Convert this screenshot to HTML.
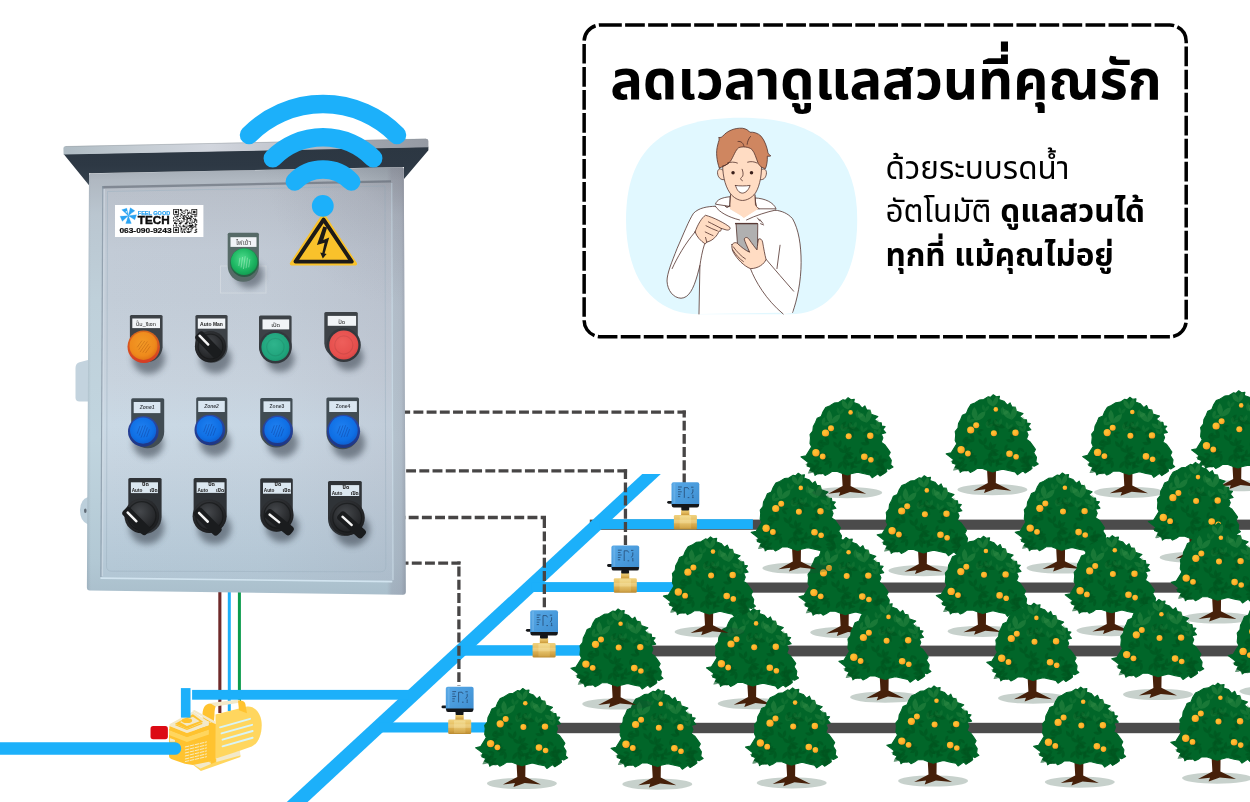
<!DOCTYPE html>
<html lang="th">
<head>
<meta charset="utf-8">
<title>ระบบรดน้ำอัตโนมัติ</title>
<style>
html,body{margin:0;padding:0;background:#fff;}
body{width:1250px;height:802px;overflow:hidden;position:relative;font-family:"Liberation Sans","Noto Sans Thai","Noto Sans Thai UI","Loma",sans-serif;}
svg{display:block;position:absolute;left:0;top:0;}
text{font-family:"Liberation Sans","Noto Sans Thai","Noto Sans Thai UI","Loma",sans-serif;}
</style>
</head>
<body>
<svg width="1250" height="802" viewBox="0 0 1250 802" role="img" aria-label="ระบบรดน้ำอัตโนมัติ">
<defs>
<radialGradient id="og" cx=".38" cy=".38" r=".72"><stop offset="0" stop-color="#ffc535"/><stop offset=".55" stop-color="#ffb42b"/><stop offset="1" stop-color="#fb8d1e"/></radialGradient>
<linearGradient id="brass" x1="0" y1="0" x2="0" y2="1"><stop offset="0" stop-color="#f0d27e"/><stop offset=".35" stop-color="#e6c064"/><stop offset=".75" stop-color="#d3a445"/><stop offset="1" stop-color="#b98a30"/></linearGradient>
<linearGradient id="brassM" x1="0" y1="0" x2="0" y2="1"><stop offset="0" stop-color="#f3dc92"/><stop offset=".5" stop-color="#e8c670"/><stop offset="1" stop-color="#cfa348"/></linearGradient>
<linearGradient id="act" x1="0" y1="0" x2="1" y2="1"><stop offset="0" stop-color="#58a8e6"/><stop offset=".5" stop-color="#4a9cdd"/><stop offset="1" stop-color="#3f8dcf"/></linearGradient>


<linearGradient id="doorV" gradientUnits="userSpaceOnUse" x1="0" y1="180" x2="0" y2="581"><stop offset="0.000" stop-color="#b1b7bf"/><stop offset="0.030" stop-color="#bac1cb"/><stop offset="0.175" stop-color="#c2cbd6"/><stop offset="0.299" stop-color="#c3cdd8"/><stop offset="0.499" stop-color="#c8d3de"/><stop offset="0.611" stop-color="#cad9e5"/><stop offset="0.711" stop-color="#c6d4e0"/><stop offset="0.923" stop-color="#b7cad8"/><stop offset="1.000" stop-color="#b2c6d4"/></linearGradient>
<radialGradient id="roofSh" gradientUnits="userSpaceOnUse" cx="412" cy="158" r="150"><stop offset="0" stop-color="#59616b" stop-opacity=".3"/><stop offset=".4" stop-color="#59616b" stop-opacity=".1"/><stop offset="1" stop-color="#59616b" stop-opacity="0"/></radialGradient>
<filter id="blur3" x="-50%" y="-50%" width="200%" height="200%"><feGaussianBlur stdDeviation="3"/></filter>
<linearGradient id="bodyH" gradientUnits="userSpaceOnUse" x1="87" y1="0" x2="406" y2="0"><stop offset="0" stop-color="#7f8e9b" stop-opacity=".3"/><stop offset=".012" stop-color="#7f8e9b" stop-opacity="0"/><stop offset=".94" stop-color="#82788a" stop-opacity="0"/><stop offset=".955" stop-color="#82788a" stop-opacity=".2"/><stop offset=".985" stop-color="#82788a" stop-opacity=".26"/><stop offset="1" stop-color="#6f6c7a" stop-opacity=".45"/></linearGradient>
<linearGradient id="doorH" gradientUnits="userSpaceOnUse" x1="100" y1="0" x2="393" y2="0"><stop offset="0" stop-color="#8f8a9a" stop-opacity="0"/><stop offset=".55" stop-color="#8f8a9a" stop-opacity=".03"/><stop offset="1" stop-color="#8f8a9a" stop-opacity=".16"/></linearGradient>
<linearGradient id="bodyV" gradientUnits="userSpaceOnUse" x1="0" y1="167" x2="0" y2="594"><stop offset="0.000" stop-color="#a3abb4"/><stop offset="0.030" stop-color="#b0b8c1"/><stop offset="0.112" stop-color="#bac6d0"/><stop offset="0.311" stop-color="#bfd0da"/><stop offset="0.639" stop-color="#c1d5df"/><stop offset="0.925" stop-color="#b2c8d4"/><stop offset="1.000" stop-color="#aabfcc"/></linearGradient>
<linearGradient id="roofD" x1="0" y1="0" x2="0" y2="1"><stop offset="0" stop-color="#2c3742"/><stop offset=".5" stop-color="#2d3844"/><stop offset=".85" stop-color="#333f4b"/><stop offset="1" stop-color="#4a5663"/></linearGradient>
<linearGradient id="roofL" x1="0" y1="0" x2="1" y2="0"><stop offset="0" stop-color="#aebbc3"/><stop offset=".2" stop-color="#c4ccd3"/><stop offset=".4" stop-color="#d2d6de"/><stop offset=".6" stop-color="#c2c6ce"/><stop offset=".85" stop-color="#9ea3ac"/><stop offset="1" stop-color="#959aa3"/></linearGradient>
<radialGradient id="knob" cx=".45" cy=".38" r=".62"><stop offset="0" stop-color="#45484c"/><stop offset=".6" stop-color="#2b2d30"/><stop offset="1" stop-color="#1c1d1f"/></radialGradient>
<radialGradient id="oL" cx=".45" cy=".4" r=".65"><stop offset="0" stop-color="#f29a26"/><stop offset=".7" stop-color="#ee8a1c"/><stop offset="1" stop-color="#dd6e14"/></radialGradient>
<linearGradient id="oLR" x1="0" y1="0" x2="0" y2="1"><stop offset="0" stop-color="#d86a1c"/><stop offset="1" stop-color="#d63c24"/></linearGradient>
<radialGradient id="gL" cx=".45" cy=".4" r=".65"><stop offset="0" stop-color="#4edc8c"/><stop offset=".6" stop-color="#1fb864"/><stop offset="1" stop-color="#109a4f"/></radialGradient>
<linearGradient id="gLR" x1="0" y1="0" x2="0" y2="1"><stop offset="0" stop-color="#1a8f4d"/><stop offset="1" stop-color="#2b5a45"/></linearGradient>
<radialGradient id="bL" cx=".45" cy=".4" r=".65"><stop offset="0" stop-color="#1f80f0"/><stop offset=".7" stop-color="#0f6fe4"/><stop offset="1" stop-color="#0e5ccb"/></radialGradient>
<linearGradient id="bLR" x1="0" y1="0" x2="0" y2="1"><stop offset="0" stop-color="#2b4aa8"/><stop offset="1" stop-color="#1e3684"/></linearGradient>
<radialGradient id="gB" cx=".45" cy=".4" r=".7"><stop offset="0" stop-color="#2fb48c"/><stop offset=".7" stop-color="#1fa37b"/><stop offset="1" stop-color="#17906c"/></radialGradient>
<radialGradient id="rB" cx=".45" cy=".4" r=".7"><stop offset="0" stop-color="#ee5f5b"/><stop offset=".7" stop-color="#e64f4d"/><stop offset="1" stop-color="#cf4040"/></radialGradient>

<symbol id="tree" viewBox="0 0 92 102" width="92" height="102" overflow="visible">
<ellipse cx="46" cy="95" rx="35" ry="5.600" fill="#1e4632" fill-opacity=".250"/>
<path d="M40.600 74 L49.600 74 L49.400 88.300 L65 96 L48.800 94.400 L37.600 98.400 L39 94.600 L27 96 L41.400 88.400Z" fill="#46200a"/>
<path d="M46.9 0.0 L49.7 2.0 L53.1 1.5 L52.5 4.8 L57.5 6.5 L60.9 10.4 L63.7 8.2 L65.4 12.1 L68.8 12.7 L69.9 16.6 L76.6 18.8 L73.3 21.7 L77.2 25.0 L80.0 25.0 L80.5 28.4 L83.9 28.9 L81.7 31.7 L84.5 35.1 L80.0 36.2 L81.7 40.2 L80.0 44.6 L83.4 46.9 L86.7 51.4 L89.0 54.7 L87.3 58.1 L90.1 62.6 L89.5 67.1 L91.8 69.3 L87.8 71.6 L85.0 70.5 L85.6 73.8 L82.2 76.1 L78.9 78.3 L76.6 76.1 L71.0 80.0 L68.8 77.2 L63.2 76.1 L56.4 74.4 L49.7 76.1 L46.3 77.2 L40.7 75.5 L36.2 73.8 L30.6 73.8 L27.3 76.1 L23.9 77.7 L21.7 75.5 L16.0 76.1 L13.8 77.7 L13.2 74.4 L8.8 72.7 L9.9 69.9 L5.9 68.2 L7.1 64.8 L4.3 62.6 L-0.2 59.2 L4.8 58.1 L7.6 53.6 L10.4 49.1 L8.8 45.8 L9.3 40.2 L8.8 36.8 L11.6 33.4 L12.1 28.9 L14.4 24.5 L16.0 20.5 L20.0 18.8 L21.7 14.4 L24.5 9.9 L28.4 8.2 L32.9 5.4 L37.4 4.8 L41.8 2.0 L44.1 2.6Z" fill="#016629" stroke="#016629" stroke-width="1.1" stroke-linejoin="round"/>
<g transform="translate(42.6 52.9) rotate(332) scale(0.93)" fill="#00541f" opacity=".6"><path d="M0 3 Q-6 0 -3.600 -5.400 Q1.200 -2.500 0 3Z"/><path d="M0 3 Q6 .500 4.400 -5 Q-.800 -2.500 0 3Z"/></g>
<g transform="translate(46.6 54.2) rotate(66) scale(0.96)" fill="#00541f" opacity=".6"><path d="M0 3 Q-6 0 -3.600 -5.400 Q1.200 -2.500 0 3Z"/><path d="M0 3 Q6 .500 4.400 -5 Q-.800 -2.500 0 3Z"/></g>
<g transform="translate(55.4 64.1) rotate(33) scale(0.85)" fill="#00541f" opacity=".6"><path d="M0 3 Q-6 0 -3.600 -5.400 Q1.200 -2.500 0 3Z"/><path d="M0 3 Q6 .500 4.400 -5 Q-.800 -2.500 0 3Z"/></g>
<g transform="translate(16.5 64.9) rotate(249) scale(0.72)" fill="#00541f" opacity=".6"><path d="M0 3 Q-6 0 -3.600 -5.400 Q1.200 -2.500 0 3Z"/><path d="M0 3 Q6 .500 4.400 -5 Q-.800 -2.500 0 3Z"/></g>
<g transform="translate(80.7 72.3) rotate(235) scale(1.01)" fill="#00541f" opacity=".6"><path d="M0 3 Q-6 0 -3.600 -5.400 Q1.200 -2.500 0 3Z"/><path d="M0 3 Q6 .500 4.400 -5 Q-.800 -2.500 0 3Z"/></g>
<g transform="translate(48.0 28.9) rotate(68) scale(0.82)" fill="#00541f" opacity=".6"><path d="M0 3 Q-6 0 -3.600 -5.400 Q1.200 -2.500 0 3Z"/><path d="M0 3 Q6 .500 4.400 -5 Q-.800 -2.500 0 3Z"/></g>
<g transform="translate(41.7 66.4) rotate(186) scale(1.02)" fill="#00541f" opacity=".6"><path d="M0 3 Q-6 0 -3.600 -5.400 Q1.200 -2.500 0 3Z"/><path d="M0 3 Q6 .500 4.400 -5 Q-.800 -2.500 0 3Z"/></g>
<g transform="translate(46.0 57.8) rotate(164) scale(0.84)" fill="#00541f" opacity=".6"><path d="M0 3 Q-6 0 -3.600 -5.400 Q1.200 -2.500 0 3Z"/><path d="M0 3 Q6 .500 4.400 -5 Q-.800 -2.500 0 3Z"/></g>
<g transform="translate(81.8 73.8) rotate(302) scale(1.05)" fill="#00541f" opacity=".6"><path d="M0 3 Q-6 0 -3.600 -5.400 Q1.200 -2.500 0 3Z"/><path d="M0 3 Q6 .500 4.400 -5 Q-.800 -2.500 0 3Z"/></g>
<g transform="translate(32.7 37.0) rotate(104) scale(0.74)" fill="#00541f" opacity=".6"><path d="M0 3 Q-6 0 -3.600 -5.400 Q1.200 -2.500 0 3Z"/><path d="M0 3 Q6 .500 4.400 -5 Q-.800 -2.500 0 3Z"/></g>
<g transform="translate(65.2 45.2) rotate(304) scale(0.89)" fill="#00541f" opacity=".6"><path d="M0 3 Q-6 0 -3.600 -5.400 Q1.200 -2.500 0 3Z"/><path d="M0 3 Q6 .500 4.400 -5 Q-.800 -2.500 0 3Z"/></g>
<g transform="translate(79.0 66.7) rotate(0) scale(0.8)" fill="#00541f" opacity=".6"><path d="M0 3 Q-6 0 -3.600 -5.400 Q1.200 -2.500 0 3Z"/><path d="M0 3 Q6 .500 4.400 -5 Q-.800 -2.500 0 3Z"/></g>
<g transform="translate(15.3 56.2) rotate(280) scale(0.83)" fill="#00541f" opacity=".6"><path d="M0 3 Q-6 0 -3.600 -5.400 Q1.200 -2.500 0 3Z"/><path d="M0 3 Q6 .500 4.400 -5 Q-.800 -2.500 0 3Z"/></g>
<g transform="translate(79.4 62.4) rotate(42) scale(0.82)" fill="#00541f" opacity=".6"><path d="M0 3 Q-6 0 -3.600 -5.400 Q1.200 -2.500 0 3Z"/><path d="M0 3 Q6 .500 4.400 -5 Q-.800 -2.500 0 3Z"/></g>
<g transform="translate(67.4 34.5) rotate(201) scale(0.92)" fill="#00541f" opacity=".6"><path d="M0 3 Q-6 0 -3.600 -5.400 Q1.200 -2.500 0 3Z"/><path d="M0 3 Q6 .500 4.400 -5 Q-.800 -2.500 0 3Z"/></g>
<g transform="translate(23.7 61.1) rotate(47) scale(1.02)" fill="#00541f" opacity=".6"><path d="M0 3 Q-6 0 -3.600 -5.400 Q1.200 -2.500 0 3Z"/><path d="M0 3 Q6 .500 4.400 -5 Q-.800 -2.500 0 3Z"/></g>
<g transform="translate(18.4 46.2) rotate(76) scale(0.83)" fill="#00541f" opacity=".6"><path d="M0 3 Q-6 0 -3.600 -5.400 Q1.200 -2.500 0 3Z"/><path d="M0 3 Q6 .500 4.400 -5 Q-.800 -2.500 0 3Z"/></g>
<g transform="translate(79.9 64.6) rotate(109) scale(1.14)" fill="#00541f" opacity=".6"><path d="M0 3 Q-6 0 -3.600 -5.400 Q1.200 -2.500 0 3Z"/><path d="M0 3 Q6 .500 4.400 -5 Q-.800 -2.500 0 3Z"/></g>
<g transform="translate(25.2 44.9) rotate(307) scale(1.02)" fill="#00541f" opacity=".6"><path d="M0 3 Q-6 0 -3.600 -5.400 Q1.200 -2.500 0 3Z"/><path d="M0 3 Q6 .500 4.400 -5 Q-.800 -2.500 0 3Z"/></g>
<g transform="translate(17.2 73.5) rotate(76) scale(0.83)" fill="#00541f" opacity=".6"><path d="M0 3 Q-6 0 -3.600 -5.400 Q1.200 -2.500 0 3Z"/><path d="M0 3 Q6 .500 4.400 -5 Q-.800 -2.500 0 3Z"/></g>
<g transform="translate(65.6 41.8) rotate(106) scale(0.74)" fill="#00541f" opacity=".6"><path d="M0 3 Q-6 0 -3.600 -5.400 Q1.200 -2.500 0 3Z"/><path d="M0 3 Q6 .500 4.400 -5 Q-.800 -2.500 0 3Z"/></g>
<g transform="translate(16.5 54.0) rotate(87) scale(1.0)" fill="#00541f" opacity=".6"><path d="M0 3 Q-6 0 -3.600 -5.400 Q1.200 -2.500 0 3Z"/><path d="M0 3 Q6 .500 4.400 -5 Q-.800 -2.500 0 3Z"/></g>
<g transform="translate(36.8 47.8) rotate(345) scale(0.94)" fill="#00541f" opacity=".6"><path d="M0 3 Q-6 0 -3.600 -5.400 Q1.200 -2.500 0 3Z"/><path d="M0 3 Q6 .500 4.400 -5 Q-.800 -2.500 0 3Z"/></g>
<g transform="translate(51.4 67.6) rotate(65) scale(0.78)" fill="#00541f" opacity=".6"><path d="M0 3 Q-6 0 -3.600 -5.400 Q1.200 -2.500 0 3Z"/><path d="M0 3 Q6 .500 4.400 -5 Q-.800 -2.500 0 3Z"/></g>
<g transform="translate(75.4 65.3) rotate(89) scale(0.79)" fill="#00541f" opacity=".6"><path d="M0 3 Q-6 0 -3.600 -5.400 Q1.200 -2.500 0 3Z"/><path d="M0 3 Q6 .500 4.400 -5 Q-.800 -2.500 0 3Z"/></g>
<g transform="translate(63.2 71.1) rotate(70) scale(1.18)" fill="#00541f" opacity=".6"><path d="M0 3 Q-6 0 -3.600 -5.400 Q1.200 -2.500 0 3Z"/><path d="M0 3 Q6 .500 4.400 -5 Q-.800 -2.500 0 3Z"/></g>
<g transform="translate(73.5 55.0) rotate(151) scale(0.75)" fill="#00541f" opacity=".6"><path d="M0 3 Q-6 0 -3.600 -5.400 Q1.200 -2.500 0 3Z"/><path d="M0 3 Q6 .500 4.400 -5 Q-.800 -2.500 0 3Z"/></g>
<g transform="translate(12.8 72.2) rotate(85) scale(1.05)" fill="#00541f" opacity=".6"><path d="M0 3 Q-6 0 -3.600 -5.400 Q1.200 -2.500 0 3Z"/><path d="M0 3 Q6 .500 4.400 -5 Q-.800 -2.500 0 3Z"/></g>
<g transform="translate(28.5 65.5) rotate(214) scale(0.85)" fill="#00541f" opacity=".6"><path d="M0 3 Q-6 0 -3.600 -5.400 Q1.200 -2.500 0 3Z"/><path d="M0 3 Q6 .500 4.400 -5 Q-.800 -2.500 0 3Z"/></g>
<g transform="translate(22.6 60.6) rotate(24) scale(0.81)" fill="#00541f" opacity=".6"><path d="M0 3 Q-6 0 -3.600 -5.400 Q1.200 -2.500 0 3Z"/><path d="M0 3 Q6 .500 4.400 -5 Q-.800 -2.500 0 3Z"/></g>
<g transform="translate(50.3 66.9) rotate(221) scale(0.84)" fill="#00541f" opacity=".6"><path d="M0 3 Q-6 0 -3.600 -5.400 Q1.200 -2.500 0 3Z"/><path d="M0 3 Q6 .500 4.400 -5 Q-.800 -2.500 0 3Z"/></g>
<g transform="translate(42.1 28.9) rotate(63) scale(0.88)" fill="#00541f" opacity=".6"><path d="M0 3 Q-6 0 -3.600 -5.400 Q1.200 -2.500 0 3Z"/><path d="M0 3 Q6 .500 4.400 -5 Q-.800 -2.500 0 3Z"/></g>
<g transform="translate(51.2 32.3) rotate(130) scale(1.15)" fill="#00541f" opacity=".6"><path d="M0 3 Q-6 0 -3.600 -5.400 Q1.200 -2.500 0 3Z"/><path d="M0 3 Q6 .500 4.400 -5 Q-.800 -2.500 0 3Z"/></g>
<g transform="translate(59.8 54.1) rotate(50) scale(0.72)" fill="#00541f" opacity=".6"><path d="M0 3 Q-6 0 -3.600 -5.400 Q1.200 -2.500 0 3Z"/><path d="M0 3 Q6 .500 4.400 -5 Q-.800 -2.500 0 3Z"/></g>
<g transform="translate(11.3 69.7) rotate(252) scale(1.18)" fill="#00541f" opacity=".6"><path d="M0 3 Q-6 0 -3.600 -5.400 Q1.200 -2.500 0 3Z"/><path d="M0 3 Q6 .500 4.400 -5 Q-.800 -2.500 0 3Z"/></g>
<g transform="translate(44.7 61.1) rotate(114) scale(1.2)" fill="#00541f" opacity=".6"><path d="M0 3 Q-6 0 -3.600 -5.400 Q1.200 -2.500 0 3Z"/><path d="M0 3 Q6 .500 4.400 -5 Q-.800 -2.500 0 3Z"/></g>
<g transform="translate(30.6 21.7) rotate(18) scale(1.5)" fill="#3d944c" opacity="0.4"><path d="M0 3 Q-6 0 -3.600 -5.400 Q1.200 -2.500 0 3Z"/><path d="M0 3 Q6 .500 4.400 -5 Q-.800 -2.500 0 3Z"/></g>
<g transform="translate(46.3 8.2) rotate(-8) scale(1.25)" fill="#3d944c" opacity="0.4"><path d="M0 3 Q-6 0 -3.600 -5.400 Q1.200 -2.500 0 3Z"/><path d="M0 3 Q6 .500 4.400 -5 Q-.800 -2.500 0 3Z"/></g>
<g transform="translate(64.3 20.5) rotate(-14) scale(1.55)" fill="#3d944c" opacity="0.4"><path d="M0 3 Q-6 0 -3.600 -5.400 Q1.200 -2.500 0 3Z"/><path d="M0 3 Q6 .500 4.400 -5 Q-.800 -2.500 0 3Z"/></g>
<g transform="translate(57.0 17.7) rotate(30) scale(0.9)" fill="#3d944c" opacity="0.3"><path d="M0 3 Q-6 0 -3.600 -5.400 Q1.200 -2.500 0 3Z"/><path d="M0 3 Q6 .500 4.400 -5 Q-.800 -2.500 0 3Z"/></g>
<g transform="translate(75.5 28.9) rotate(-35) scale(1.1)" fill="#3d944c" opacity="0.32"><path d="M0 3 Q-6 0 -3.600 -5.400 Q1.200 -2.500 0 3Z"/><path d="M0 3 Q6 .500 4.400 -5 Q-.800 -2.500 0 3Z"/></g>
<g transform="translate(23.0 25.4) rotate(40) scale(0.9)" fill="#3d944c" opacity="0.3"><path d="M0 3 Q-6 0 -3.600 -5.400 Q1.200 -2.500 0 3Z"/><path d="M0 3 Q6 .500 4.400 -5 Q-.800 -2.500 0 3Z"/></g>
<g transform="translate(76.8 34.8) rotate(-20) scale(0.8)" fill="#3d944c" opacity="0.25"><path d="M0 3 Q-6 0 -3.600 -5.400 Q1.200 -2.500 0 3Z"/><path d="M0 3 Q6 .500 4.400 -5 Q-.800 -2.500 0 3Z"/></g>
<g transform="translate(38.5 14.4) rotate(10) scale(0.8)" fill="#3d944c" opacity="0.2"><path d="M0 3 Q-6 0 -3.600 -5.400 Q1.200 -2.500 0 3Z"/><path d="M0 3 Q6 .500 4.400 -5 Q-.800 -2.500 0 3Z"/></g>
<g transform="translate(51.9 28.9) rotate(-10) scale(0.9)" fill="#3d944c" opacity="0.2"><path d="M0 3 Q-6 0 -3.600 -5.400 Q1.200 -2.500 0 3Z"/><path d="M0 3 Q6 .500 4.400 -5 Q-.800 -2.500 0 3Z"/></g>
<g transform="translate(41.8 31.2) rotate(25) scale(0.8)" fill="#3d944c" opacity="0.2"><path d="M0 3 Q-6 0 -3.600 -5.400 Q1.200 -2.500 0 3Z"/><path d="M0 3 Q6 .500 4.400 -5 Q-.800 -2.500 0 3Z"/></g>
<g transform="translate(62.0 32.3) rotate(15) scale(0.8)" fill="#3d944c" opacity="0.2"><path d="M0 3 Q-6 0 -3.600 -5.400 Q1.200 -2.500 0 3Z"/><path d="M0 3 Q6 .500 4.400 -5 Q-.800 -2.500 0 3Z"/></g>
<circle cx="49.4" cy="14.7" r="2.3" fill="url(#og)"/>
<circle cx="29.8" cy="30.5" r="3.0" fill="url(#og)"/>
<circle cx="24.3" cy="35.3" r="3.6" fill="url(#og)"/>
<circle cx="47.5" cy="38.5" r="3.0" fill="url(#og)"/>
<circle cx="69.1" cy="38.1" r="3.2" fill="url(#og)"/>
<circle cx="14.7" cy="55.1" r="3.7" fill="url(#og)"/>
<circle cx="21.5" cy="58.8" r="2.9" fill="url(#og)"/>
<circle cx="63.1" cy="59.1" r="3.3" fill="url(#og)"/>
<circle cx="69.7" cy="62" r="2.8" fill="url(#og)"/>
</symbol>
<symbol id="valve" viewBox="0 0 34 60" width="34" height="60" overflow="visible">
<rect x="9.600" y="37.600" width="8.300" height="6" fill="url(#brass)"/>
<rect x="9.800" y="34.600" width="7.900" height="3.600" rx=".8" fill="#15171a"/>
<rect x="2.400" y="42.800" width="23" height="14.500" rx="1.300" fill="url(#brass)"/>
<rect x="8.200" y="43.800" width="11.400" height="12.500" fill="url(#brassM)"/>
<rect x="2.400" y="47.500" width="23" height="3.600" fill="#fff3c4" opacity=".28"/>
<rect x="-4.300" y="28.700" width="6.500" height="2.800" rx="1.400" fill="#15171a"/>
<path d="M0 12 Q0 10 2 10 H25.800 Q27.800 10 27.800 12 V33 H0Z" fill="url(#act)"/>
<rect x="1.900" y="11" width="1.900" height="20" fill="#8cc6f0" opacity=".35"/>
<path d="M.300 31.700 H27.500 V33.300 Q27.500 35.200 25.600 35.200 H2.200 Q.300 35.200 .300 33.300Z" fill="#15171a"/>
<g stroke="#1d3a5c" stroke-width=".75" fill="none" opacity=".9"><path d="M6.500 14.800h3.800M6.500 17.200h2.600M6.500 19.600h3.800M6.500 22h2.600M6.500 24.400h2.200M12.800 25.600V15.400h3.400l1.200 1.800M19.600 15h2.400M21.400 17v2.800l-1.400 2.200M16.200 25.400h1.600M20.600 25.400h1.600M21.400 22.600v2"/></g>
</symbol>
</defs>
<g id="pipes">
<rect x="589.8" y="519.6" width="660.2" height="10.2" fill="#4b4b4b"/>
<rect x="675.0" y="582.5" width="575.0" height="10.2" fill="#4b4b4b"/>
<rect x="583.0" y="645.6" width="667.0" height="10.8" fill="#4b4b4b"/>
<rect x="493.0" y="722.8" width="757.0" height="10.4" fill="#4b4b4b"/>
<polygon points="642.3,474 660.8,474 305.5,804 284.6,804" fill="#1cb0fa"/>
<rect x="599.3" y="519.2" width="153.6" height="9.9" fill="#1cb0fa"/>
<rect x="531.1" y="582.1" width="144.9" height="9.9" fill="#1cb0fa"/>
<rect x="462.8" y="645.2" width="121.2" height="10.5" fill="#1cb0fa"/>
<rect x="379.1" y="722.4" width="114.9" height="10.1" fill="#1cb0fa"/>
</g>
<g id="wires">
<g fill="none" stroke="#474545" stroke-width="3.3" stroke-dasharray="9.9 3.3"><path d="M402.0 412.15 H685.85" stroke-dashoffset="1.76"/>
<path d="M684.2 410.50 V483.4" stroke-dashoffset="3.00"/>
<path d="M402.0 470.95 H627.10" stroke-dashoffset="9.06"/>
<path d="M625.45 469.30 V545.6" stroke-dashoffset="0.10"/>
<path d="M402.0 517.5 H546.00" stroke-dashoffset="6.50"/>
<path d="M544.35 515.85 V607.3" stroke-dashoffset="10.85"/>
<path d="M402.0 563.1 H460.55" stroke-dashoffset="3.40"/>
<path d="M458.9 561.45 V686.0" stroke-dashoffset="8.05"/></g>
</g>
<g id="trees">
<use href="#tree" x="946.4" y="394.7"/>
<use href="#tree" x="1082.9" y="397.3"/>
<use href="#tree" x="1191.8" y="390.7"/>
<use href="#tree" x="877.4" y="475.7"/>
<use href="#tree" x="1015.5" y="473.0"/>
<use href="#tree" x="1148.6" y="462.4"/>
<use href="#tree" x="799.2" y="537.5"/>
<use href="#tree" x="936.5" y="536.3"/>
<use href="#tree" x="1065.4" y="535.6"/>
<use href="#tree" x="1171.5" y="523.0"/>
<use href="#tree" x="706.7" y="608.7"/>
<use href="#tree" x="839.1" y="602.2"/>
<use href="#tree" x="987.0" y="603.2"/>
<use href="#tree" x="1112.0" y="599.5"/>
<use href="#tree" x="1228.4" y="596.3"/>
<use href="#tree" x="475.9" y="688.5"/>
<use href="#tree" x="611.3" y="689.2"/>
<use href="#tree" x="745.7" y="687.9"/>
<use href="#tree" x="887.1" y="686.0"/>
<use href="#tree" x="1033.8" y="687.1"/>
<use href="#tree" x="1171.0" y="683.1"/>
<use href="#tree" x="571.2" y="609.0"/>
<use href="#tree" x="663.6" y="536.9"/>
<use href="#tree" x="751.4" y="473.2"/>
<use href="#tree" x="801.2" y="397.7"/>
</g>
<g id="valves">
<use href="#valve" x="671.5" y="472.2"/>
<use href="#valve" x="611.4" y="535.4"/>
<use href="#valve" x="530.2" y="600.2"/>
<use href="#valve" x="445.8" y="676.8"/>
</g>
<g id="pumpwires"><rect x="218.300" y="591" width="3.100" height="122" fill="#6f2a2a"/><rect x="227.800" y="591" width="3" height="120" fill="#1cb0fa"/><rect x="237.900" y="591" width="3" height="110" fill="#0b9b4c"/></g>
<g id="pump" transform="translate(160 695) scale(.09973)">
<path d="M330 700 L410 762 L806 622 L806 598 L565 640 L480 668Z" fill="#ffd65e"/>
<path d="M322 690 L480 662 L515 690 L405 738Z" fill="#f3e9c9"/>
<path d="M565 615 L802 560 L806 606 L565 672Z" fill="#f3e9c9"/>
<path d="M556 196 L872 116 C960 108 1020 198 1020 300 C1020 402 982 490 920 516 L800 560 L562 636Z" fill="#ffd65e"/>
<g stroke="#d8f4f7" stroke-width="19" stroke-linecap="round" fill="none"><path d="M602 324 L903 239"/><path d="M617 385 L924 299"/><path d="M627 448 L929 361"/><path d="M627 515 L929 429"/></g>
<path d="M428 215 C420 135 452 86 505 84 L566 100 C552 120 546 155 546 205 L540 285 L428 245Z" fill="#ffc32f"/>
<path d="M500 80 L795 46 L812 74 L556 116Z" fill="#f3e9c9"/>
<path d="M782 58 C815 52 848 62 856 90 L872 182 L792 152Z" fill="#ffc32f"/>
<path d="M90 340 L270 410 L490 270 L515 280 L515 664 L330 702 L250 690 L112 642 Q90 632 90 610Z" fill="#ffc32f"/>
<path d="M90 350 L270 420 L490 345 L490 396 L270 472 L90 402Z" fill="#ffd65e"/>
<path d="M322 160 L346 150 L556 266 L546 292Z" fill="#f3e9c9"/>
<path d="M95 300 Q95 292 103 288 L330 165 L490 270 L490 306 L270 382 L95 312Z" fill="#f3e9c9"/>
<path d="M95 312 L270 382 L490 306 L490 346 L270 422 L95 352 Q92 332 95 312Z" fill="#ffc32f"/>
<path d="M150 288 L330 192 L432 268 L270 338Z" fill="#ffc32f"/>
<path d="M200 270 L330 218 L398 264 L270 312Z" fill="#f3e9c9"/>
<path d="M158 294 L270 338 L424 276 L424 290 L270 352 L152 304Z" fill="#ffc32f"/>
<ellipse cx="270" cy="258" rx="52" ry="24" fill="#ffc32f"/>
<path d="M510 272 L560 292 L560 672 L510 692Z" fill="#ffc32f"/>
<g stroke="#f6efcf" stroke-width="9" fill="none" stroke-dasharray="44 7"><path d="M250 522 L470 470"/><path d="M250 552 L470 500"/><path d="M250 582 L470 530"/><path d="M250 612 L470 560"/><path d="M250 642 L470 590"/><path d="M250 668 L470 618"/></g>
<path d="M98 432 L150 450 L150 470 L98 470Z" fill="#f3e9c9"/>
<rect x="-95" y="312" width="174" height="131" rx="26" fill="#dc0a14"/>
</g>


<g id="box">
<path d="M88 360 V401.500 H79.500 Q75.500 401.500 75.500 397.500 V368 Q75.500 363.500 79.500 362.300Z" fill="#c3d3de"/>
<path d="M88 497 Q80 499.500 80 510.500 Q80 521.500 88 524.400Z" fill="#bccfdb"/>
<ellipse cx="85.300" cy="510.700" rx="1.300" ry="2.200" fill="#5e6a75"/>
<path d="M91 173.400 L402 167.200 Q403.800 167.200 403.800 169 L405.800 591.800 Q405.800 594.800 402.800 594.800 L89.900 590.500 Q86.900 590.500 86.900 587.500 L89 175.400 Q89 173.400 91 173.400Z" fill="url(#bodyV)"/>
<path d="M91 173.400 L402 167.200 Q403.800 167.200 403.800 169 L405.800 591.800 Q405.800 594.800 402.800 594.800 L89.900 590.500 Q86.900 590.500 86.900 587.500 L89 175.400 Q89 173.400 91 173.400Z" fill="url(#bodyH)"/>
<path d="M102.200 186 L391 180.200 L392.400 580.800 L100.300 577.400Z" fill="url(#doorV)"/>
<path d="M102.200 186 L391 180.200 L392.400 580.800 L100.300 577.400Z" fill="url(#doorH)"/>
<path d="M102.200 186 L391 180.200 L391 182.600 L102.200 188.400Z" fill="#6f7781" opacity=".75"/>
<path d="M102.800 186 L100.900 577" fill="none" stroke="#8797a5" stroke-opacity=".8" stroke-width="1.200"/>
<path d="M104.300 189 L102.400 576" fill="none" stroke="#d3dee7" stroke-opacity=".55" stroke-width="1.400"/>
<path d="M100.500 578.200 L392.300 581.600" fill="none" stroke="#d6e8f3" stroke-opacity=".9" stroke-width="1.700"/>
<path d="M391.700 183 L393 580" fill="none" stroke="#cfdfeb" stroke-opacity=".7" stroke-width="1.300"/>
<path d="M107.500 191.500 L385 186 L385.800 566.500 Q385.800 571.800 380.500 571.800 L111.800 571.200 Q106.500 571.200 106.500 566Z" fill="none" stroke="#9fb2c1" stroke-opacity=".55" stroke-width="1"/>
<path d="M91 173.400 L402 167.200 Q403.800 167.200 403.800 169 L405.800 591.800 Q405.800 594.800 402.800 594.800 L89.900 590.500 Q86.900 590.500 86.900 587.500 L89 175.400 Q89 173.400 91 173.400Z" fill="url(#roofSh)"/>
<path d="M63.600 154 L428.400 146.800 L428.400 150.300 L404 179 L404 167.100 L89 173.300 L89 185.200Z" fill="url(#roofD)"/>
<path d="M65.400 146.200 L426 138.700 Q428.400 138.700 428.400 141.100 L428.400 147.200 L63.600 154.500 L63.400 148.200 Q63.400 146.200 65.400 146.200Z" fill="url(#roofL)"/><path d="M65.400 146.500 L426 139" fill="none" stroke="#8e949b" stroke-opacity=".6" stroke-width=".7"/>
<rect x="220.500" y="266" width="45.500" height="27" fill="none" stroke="#e8ebee" stroke-opacity=".4" stroke-width="1"/>
<rect x="115" y="205" width="88.400" height="32" fill="#fff"/>
<g transform="translate(128.300 215.800)" fill="#2aa3f2" stroke="#2aa3f2" stroke-width=".3" stroke-linejoin="round"><path d="M0 0 L-6.500 -6 L-1.500 -7.500Z M0 0 L2 -8 L6.500 -5Z M0 0 L8.200 -1 L6.500 4Z M0 0 L3 7.600 L-2.500 7.800Z M0 0 L-6 5.500 L-8.200 .500Z"/><path d="M-3 -3.800 l1.500 -1 l.300 1.800z M3.200 -3 l1.800 .200 l-1.200 1.400z M3.400 2.800 l.600 1.700 l-1.800 -.400z M-1.600 4.200 l-1 1.500 l-.500 -1.800z M-4.400 -.200 l-1.800 .300 l1.200 -1.400z" fill="#fff" stroke="none"/></g>



<path d="M173.20 209.00h5.79v0.83h-5.79zM179.82 209.00h1.66v0.83h-1.66zM185.61 209.00h0.83v0.83h-0.83zM191.41 209.00h5.79v0.83h-5.79zM173.20 209.83h0.83v0.83h-0.83zM178.17 209.83h0.83v0.83h-0.83zM179.82 209.83h2.48v0.83h-2.48zM184.79 209.83h0.83v0.83h-0.83zM186.44 209.83h1.66v0.83h-1.66zM191.41 209.83h0.83v0.83h-0.83zM196.37 209.83h0.83v0.83h-0.83zM173.20 210.66h0.83v0.83h-0.83zM174.86 210.66h2.48v0.83h-2.48zM178.17 210.66h0.83v0.83h-0.83zM181.48 210.66h0.83v0.83h-0.83zM183.13 210.66h2.48v0.83h-2.48zM187.27 210.66h0.83v0.83h-0.83zM188.92 210.66h0.83v0.83h-0.83zM191.41 210.66h0.83v0.83h-0.83zM193.06 210.66h2.48v0.83h-2.48zM196.37 210.66h0.83v0.83h-0.83zM173.20 211.48h0.83v0.83h-0.83zM174.86 211.48h2.48v0.83h-2.48zM178.17 211.48h0.83v0.83h-0.83zM181.48 211.48h0.83v0.83h-0.83zM191.41 211.48h0.83v0.83h-0.83zM193.06 211.48h2.48v0.83h-2.48zM196.37 211.48h0.83v0.83h-0.83zM173.20 212.31h0.83v0.83h-0.83zM174.86 212.31h2.48v0.83h-2.48zM178.17 212.31h0.83v0.83h-0.83zM181.48 212.31h1.66v0.83h-1.66zM184.79 212.31h0.83v0.83h-0.83zM187.27 212.31h3.31v0.83h-3.31zM191.41 212.31h0.83v0.83h-0.83zM193.06 212.31h2.48v0.83h-2.48zM196.37 212.31h0.83v0.83h-0.83zM173.20 213.14h0.83v0.83h-0.83zM178.17 213.14h0.83v0.83h-0.83zM179.82 213.14h0.83v0.83h-0.83zM183.13 213.14h1.66v0.83h-1.66zM187.27 213.14h1.66v0.83h-1.66zM189.75 213.14h0.83v0.83h-0.83zM191.41 213.14h0.83v0.83h-0.83zM196.37 213.14h0.83v0.83h-0.83zM173.20 213.97h5.79v0.83h-5.79zM180.65 213.97h1.66v0.83h-1.66zM187.27 213.97h0.83v0.83h-0.83zM191.41 213.97h5.79v0.83h-5.79zM180.65 214.79h1.66v0.83h-1.66zM183.96 214.79h0.83v0.83h-0.83zM186.44 214.79h1.66v0.83h-1.66zM174.03 215.62h0.83v0.83h-0.83zM176.51 215.62h2.48v0.83h-2.48zM179.82 215.62h0.83v0.83h-0.83zM182.30 215.62h4.14v0.83h-4.14zM188.10 215.62h0.83v0.83h-0.83zM189.75 215.62h2.48v0.83h-2.48zM193.89 215.62h3.31v0.83h-3.31zM174.86 216.45h3.31v0.83h-3.31zM179.82 216.45h0.83v0.83h-0.83zM183.13 216.45h0.83v0.83h-0.83zM185.61 216.45h0.83v0.83h-0.83zM188.10 216.45h0.83v0.83h-0.83zM190.58 216.45h2.48v0.83h-2.48zM194.72 216.45h0.83v0.83h-0.83zM173.20 217.28h0.83v0.83h-0.83zM174.86 217.28h0.83v0.83h-0.83zM181.48 217.28h0.83v0.83h-0.83zM183.13 217.28h1.66v0.83h-1.66zM185.61 217.28h2.48v0.83h-2.48zM188.92 217.28h1.66v0.83h-1.66zM191.41 217.28h0.83v0.83h-0.83zM173.20 218.10h0.83v0.83h-0.83zM176.51 218.10h0.83v0.83h-0.83zM178.99 218.10h1.66v0.83h-1.66zM182.30 218.10h2.48v0.83h-2.48zM186.44 218.10h4.97v0.83h-4.97zM193.06 218.10h0.83v0.83h-0.83zM194.72 218.10h0.83v0.83h-0.83zM177.34 218.93h1.66v0.83h-1.66zM183.13 218.93h2.48v0.83h-2.48zM186.44 218.93h1.66v0.83h-1.66zM189.75 218.93h0.83v0.83h-0.83zM191.41 218.93h0.83v0.83h-0.83zM193.89 218.93h2.48v0.83h-2.48zM173.20 219.76h3.31v0.83h-3.31zM177.34 219.76h0.83v0.83h-0.83zM186.44 219.76h0.83v0.83h-0.83zM189.75 219.76h1.66v0.83h-1.66zM194.72 219.76h2.48v0.83h-2.48zM173.20 220.59h0.83v0.83h-0.83zM176.51 220.59h0.83v0.83h-0.83zM178.17 220.59h1.66v0.83h-1.66zM180.65 220.59h1.66v0.83h-1.66zM183.13 220.59h1.66v0.83h-1.66zM186.44 220.59h1.66v0.83h-1.66zM189.75 220.59h0.83v0.83h-0.83zM192.23 220.59h0.83v0.83h-0.83zM193.89 220.59h1.66v0.83h-1.66zM196.37 220.59h0.83v0.83h-0.83zM174.86 221.41h0.83v0.83h-0.83zM176.51 221.41h0.83v0.83h-0.83zM178.99 221.41h0.83v0.83h-0.83zM182.30 221.41h0.83v0.83h-0.83zM186.44 221.41h0.83v0.83h-0.83zM188.10 221.41h0.83v0.83h-0.83zM191.41 221.41h0.83v0.83h-0.83zM193.89 221.41h0.83v0.83h-0.83zM196.37 221.41h0.83v0.83h-0.83zM174.03 222.24h1.66v0.83h-1.66zM179.82 222.24h2.48v0.83h-2.48zM185.61 222.24h2.48v0.83h-2.48zM188.92 222.24h0.83v0.83h-0.83zM190.58 222.24h0.83v0.83h-0.83zM192.23 222.24h2.48v0.83h-2.48zM196.37 222.24h0.83v0.83h-0.83zM174.03 223.07h3.31v0.83h-3.31zM178.99 223.07h2.48v0.83h-2.48zM184.79 223.07h2.48v0.83h-2.48zM188.92 223.07h1.66v0.83h-1.66zM191.41 223.07h0.83v0.83h-0.83zM194.72 223.07h0.83v0.83h-0.83zM175.68 223.90h0.83v0.83h-0.83zM179.82 223.90h0.83v0.83h-0.83zM184.79 223.90h0.83v0.83h-0.83zM186.44 223.90h0.83v0.83h-0.83zM192.23 223.90h0.83v0.83h-0.83zM194.72 223.90h2.48v0.83h-2.48zM173.20 224.72h0.83v0.83h-0.83zM175.68 224.72h0.83v0.83h-0.83zM178.17 224.72h0.83v0.83h-0.83zM183.13 224.72h0.83v0.83h-0.83zM188.92 224.72h4.14v0.83h-4.14zM195.54 224.72h0.83v0.83h-0.83zM173.20 225.55h0.83v0.83h-0.83zM175.68 225.55h1.66v0.83h-1.66zM178.99 225.55h1.66v0.83h-1.66zM182.30 225.55h2.48v0.83h-2.48zM185.61 225.55h0.83v0.83h-0.83zM187.27 225.55h6.62v0.83h-6.62zM194.72 225.55h1.66v0.83h-1.66zM179.82 226.38h0.83v0.83h-0.83zM181.48 226.38h0.83v0.83h-0.83zM183.13 226.38h2.48v0.83h-2.48zM186.44 226.38h0.83v0.83h-0.83zM189.75 226.38h2.48v0.83h-2.48zM193.89 226.38h1.66v0.83h-1.66zM173.20 227.21h5.79v0.83h-5.79zM180.65 227.21h0.83v0.83h-0.83zM185.61 227.21h1.66v0.83h-1.66zM188.92 227.21h1.66v0.83h-1.66zM191.41 227.21h2.48v0.83h-2.48zM195.54 227.21h0.83v0.83h-0.83zM173.20 228.03h0.83v0.83h-0.83zM178.17 228.03h0.83v0.83h-0.83zM180.65 228.03h1.66v0.83h-1.66zM184.79 228.03h0.83v0.83h-0.83zM186.44 228.03h0.83v0.83h-0.83zM188.10 228.03h0.83v0.83h-0.83zM191.41 228.03h1.66v0.83h-1.66zM173.20 228.86h0.83v0.83h-0.83zM174.86 228.86h2.48v0.83h-2.48zM178.17 228.86h0.83v0.83h-0.83zM180.65 228.86h1.66v0.83h-1.66zM183.13 228.86h2.48v0.83h-2.48zM187.27 228.86h1.66v0.83h-1.66zM189.75 228.86h0.83v0.83h-0.83zM191.41 228.86h0.83v0.83h-0.83zM195.54 228.86h1.66v0.83h-1.66zM173.20 229.69h0.83v0.83h-0.83zM174.86 229.69h2.48v0.83h-2.48zM178.17 229.69h0.83v0.83h-0.83zM180.65 229.69h0.83v0.83h-0.83zM185.61 229.69h0.83v0.83h-0.83zM188.10 229.69h0.83v0.83h-0.83zM191.41 229.69h0.83v0.83h-0.83zM194.72 229.69h1.66v0.83h-1.66zM173.20 230.52h0.83v0.83h-0.83zM174.86 230.52h2.48v0.83h-2.48zM178.17 230.52h0.83v0.83h-0.83zM180.65 230.52h0.83v0.83h-0.83zM182.30 230.52h2.48v0.83h-2.48zM190.58 230.52h0.83v0.83h-0.83zM195.54 230.52h0.83v0.83h-0.83zM173.20 231.34h0.83v0.83h-0.83zM178.17 231.34h0.83v0.83h-0.83zM180.65 231.34h0.83v0.83h-0.83zM182.30 231.34h0.83v0.83h-0.83zM183.96 231.34h0.83v0.83h-0.83zM186.44 231.34h4.97v0.83h-4.97zM195.54 231.34h1.66v0.83h-1.66zM173.20 232.17h5.79v0.83h-5.79zM181.48 232.17h1.66v0.83h-1.66zM183.96 232.17h1.66v0.83h-1.66zM187.27 232.17h2.48v0.83h-2.48zM193.89 232.17h2.48v0.83h-2.48z" fill="#1a1a1a"/>
<path d="M323.400 215.200 L355.300 263.800 L291.500 263.800Z" fill="#f9c22b" stroke="#f9c22b" stroke-width="3.400" stroke-linejoin="round"/>
<path d="M323.600 219.600 L351.700 261.600 L295.500 261.600Z" fill="#f9c22b" stroke="#1c1a18" stroke-width="3.900" stroke-linejoin="round"/>
<polygon points="323.3,226.6 327.1,227.6 323.3,239.9 329.2,237.4 324.6,253.5 326.6,253.9 322.8,258.4 320.2,252.5 322.3,253.0 324.6,242.8 316.9,245.1" fill="#1c1a18"/>
<ellipse cx="249.3" cy="274.6" rx="14.3" ry="13.3" fill="#3f4a55" opacity="0.55" filter="url(#blur3)"/>
<path d="M229.2 232.7 H257.4 Q258.9 232.7 258.9 234.2 V266.1 A15.6 15.6 0 0 1 227.7 266.1 V234.2 Q227.7 232.7 229.2 232.7Z" fill="#566a67"/>
<rect x="230.5" y="237.2" width="26.0" height="9.7" fill="#f1f4f7"/>
<circle cx="244.3" cy="262.6" r="14.3" fill="url(#gLR)"/>
<circle cx="244.1" cy="261.7" r="13.2" fill="url(#gL)"/>
<path d="M-5.0 -4.1V4.1M-2.5 -5.3V5.3M0.0 -6.5V6.5M2.5 -5.3V5.3M5.0 -4.1V4.1" transform="translate(244.3 262.6) rotate(8)" fill="none" stroke="#c9f5d8" stroke-width=".9" opacity=".45"/>
<ellipse cx="148.7" cy="358.8" rx="16.2" ry="15.2" fill="#3f4a55" opacity="0.6" filter="url(#blur3)"/>
<path d="M131.4 314.9 H161.1 Q162.6 314.9 162.6 316.4 V347.2 A16.4 16.4 0 0 1 129.9 347.2 V316.4 Q129.9 314.9 131.4 314.9Z" fill="#3d4247"/>
<rect x="132.3" y="318.5" width="27.7" height="9.6" fill="#f1f4f7"/>
<circle cx="143.7" cy="346.8" r="16.2" fill="url(#oLR)"/>
<circle cx="143.5" cy="345.9" r="14.0" fill="url(#oL)"/>
<path d="M-5.0 -4.1V4.1M-2.5 -5.3V5.3M0.0 -6.5V6.5M2.5 -5.3V5.3M5.0 -4.1V4.1" transform="translate(143.7 346.8) rotate(35)" fill="none" stroke="#b45a10" stroke-width=".9" opacity=".45"/>
<ellipse cx="215.5" cy="358.6" rx="15.6" ry="14.6" fill="#3f4a55" opacity="0.6" filter="url(#blur3)"/>
<path d="M196.9 314.9 H226.1 Q227.6 314.9 227.6 316.4 V346.7 A16.1 16.1 0 0 1 195.4 346.7 V316.4 Q195.4 314.9 196.9 314.9Z" fill="#3d4247"/>
<rect x="197.8" y="318.5" width="27.5" height="10.2" fill="#f1f4f7"/>
<circle cx="210.5" cy="346.6" r="15.6" fill="url(#knob)"/>
<circle cx="210.5" cy="346.6" r="12.4" fill="none" stroke="#0e0f10" stroke-opacity=".5" stroke-width="1.2"/>
<g transform="translate(203.9 340.2) rotate(46)"><rect x="-9" y="-5.2" width="30.5" height="10.4" rx="3.4" fill="#1a1c1e"/><rect x="-7.3" y="-1.25" width="14.6" height="2.5" rx="1" fill="#f4f4f4"/></g>
<ellipse cx="280.4" cy="359.1" rx="14.0" ry="13.0" fill="#3f4a55" opacity="0.6" filter="url(#blur3)"/>
<path d="M260.5 315.4 H290.1 Q291.6 315.4 291.6 316.9 V345.4 A16.3 16.3 0 0 1 259.0 345.4 V316.9 Q259.0 315.4 260.5 315.4Z" fill="#3d4247"/>
<rect x="262.5" y="319.4" width="26.7" height="10.0" fill="#f1f4f7"/>
<circle cx="275.4" cy="347.1" r="16.4" fill="#33383d"/>
<circle cx="275.4" cy="347.1" r="14.0" fill="url(#gB)"/>
<circle cx="275.4" cy="347.1" r="8.7" fill="none" stroke="#000" stroke-opacity=".08" stroke-width="1.2"/>
<ellipse cx="348.8" cy="357.0" rx="14.6" ry="13.6" fill="#3f4a55" opacity="0.6" filter="url(#blur3)"/>
<path d="M325.8 312.1 H356.3 Q357.8 312.1 357.8 313.6 V343.5 A16.8 16.8 0 0 1 324.3 343.5 V313.6 Q324.3 312.1 325.8 312.1Z" fill="#3d4247"/>
<rect x="327.7" y="315.9" width="28.4" height="9.9" fill="#f1f4f7"/>
<circle cx="343.8" cy="345.0" r="17.0" fill="#33383d"/>
<circle cx="343.8" cy="345.0" r="14.6" fill="url(#rB)"/>
<circle cx="343.8" cy="345.0" r="9.1" fill="none" stroke="#000" stroke-opacity=".08" stroke-width="1.2"/>
<ellipse cx="148.3" cy="443.5" rx="15.3" ry="14.3" fill="#3f4a55" opacity="0.6" filter="url(#blur3)"/>
<path d="M132.7 398.3 H162.7 Q164.2 398.3 164.2 399.8 V431.7 A16.5 16.5 0 0 1 131.2 431.7 V399.8 Q131.2 398.3 132.7 398.3Z" fill="#414c53"/>
<rect x="133.7" y="402.0" width="26.7" height="11.1" fill="#d9e6f1"/>
<circle cx="143.3" cy="431.5" r="15.3" fill="url(#bLR)"/>
<circle cx="143.1" cy="430.6" r="13.1" fill="url(#bL)"/>
<path d="M-5.0 -4.1V4.1M-2.5 -5.3V5.3M0.0 -6.5V6.5M2.5 -5.3V5.3M5.0 -4.1V4.1" transform="translate(143.3 431.5) rotate(20)" fill="none" stroke="#0d3f9c" stroke-width=".9" opacity=".45"/>
<ellipse cx="214.8" cy="442.0" rx="15.3" ry="14.3" fill="#3f4a55" opacity="0.6" filter="url(#blur3)"/>
<path d="M197.7 397.3 H225.8 Q227.3 397.3 227.3 398.8 V431.1 A15.6 15.6 0 0 1 196.2 431.1 V398.8 Q196.2 397.3 197.7 397.3Z" fill="#414c53"/>
<rect x="198.2" y="400.9" width="26.6" height="11.1" fill="#d9e6f1"/>
<circle cx="209.8" cy="430.0" r="15.3" fill="url(#bLR)"/>
<circle cx="209.6" cy="429.1" r="13.1" fill="url(#bL)"/>
<path d="M-5.0 -4.1V4.1M-2.5 -5.3V5.3M0.0 -6.5V6.5M2.5 -5.3V5.3M5.0 -4.1V4.1" transform="translate(209.8 430.0) rotate(20)" fill="none" stroke="#0d3f9c" stroke-width=".9" opacity=".45"/>
<ellipse cx="282.6" cy="442.9" rx="15.3" ry="14.3" fill="#3f4a55" opacity="0.6" filter="url(#blur3)"/>
<path d="M261.7 398.0 H291.0 Q292.5 398.0 292.5 399.5 V431.4 A16.1 16.1 0 0 1 260.2 431.4 V399.5 Q260.2 398.0 261.7 398.0Z" fill="#414c53"/>
<rect x="263.5" y="401.3" width="26.8" height="10.7" fill="#d9e6f1"/>
<circle cx="277.6" cy="430.9" r="15.3" fill="url(#bLR)"/>
<circle cx="277.4" cy="430.0" r="13.1" fill="url(#bL)"/>
<path d="M-5.0 -4.1V4.1M-2.5 -5.3V5.3M0.0 -6.5V6.5M2.5 -5.3V5.3M5.0 -4.1V4.1" transform="translate(277.6 430.9) rotate(20)" fill="none" stroke="#0d3f9c" stroke-width=".9" opacity=".45"/>
<ellipse cx="348.5" cy="443.3" rx="16.6" ry="15.6" fill="#3f4a55" opacity="0.6" filter="url(#blur3)"/>
<path d="M327.9 397.6 H357.5 Q359.0 397.6 359.0 399.1 V433.0 A16.3 16.3 0 0 1 326.4 433.0 V399.1 Q326.4 397.6 327.9 397.6Z" fill="#414c53"/>
<rect x="329.2" y="401.1" width="27.7" height="10.9" fill="#d9e6f1"/>
<circle cx="343.5" cy="431.3" r="16.6" fill="url(#bLR)"/>
<circle cx="343.3" cy="430.4" r="14.4" fill="url(#bL)"/>
<path d="M-5.0 -4.1V4.1M-2.5 -5.3V5.3M0.0 -6.5V6.5M2.5 -5.3V5.3M5.0 -4.1V4.1" transform="translate(343.5 431.3) rotate(20)" fill="none" stroke="#0d3f9c" stroke-width=".9" opacity=".45"/>
<ellipse cx="146.8" cy="527.8" rx="17.4" ry="16.4" fill="#3f4a55" opacity="0.6" filter="url(#blur3)"/>
<path d="M129.8 478.1 H160.1 Q161.6 478.1 161.6 479.6 V517.1 A16.6 16.6 0 0 1 128.3 517.1 V479.6 Q128.3 478.1 129.8 478.1Z" fill="#2f3337"/>
<rect x="130.9" y="482.3" width="27.1" height="10.8" fill="#dbe7f0"/>
<circle cx="141.8" cy="515.8" r="17.4" fill="url(#knob)"/>
<circle cx="141.8" cy="515.8" r="14.2" fill="none" stroke="#0e0f10" stroke-opacity=".5" stroke-width="1.2"/>
<g transform="translate(132.0 516.9) rotate(45)"><rect x="-10.5" y="-5.2" width="33.0" height="10.4" rx="3.4" fill="#1a1c1e"/><rect x="-7.3" y="-1.25" width="14.6" height="2.5" rx="1" fill="#f4f4f4"/></g>
<ellipse cx="214.4" cy="528.3" rx="16.8" ry="15.8" fill="#3f4a55" opacity="0.6" filter="url(#blur3)"/>
<path d="M195.1 478.0 H225.2 Q226.7 478.0 226.7 479.5 V517.1 A16.6 16.6 0 0 1 193.6 517.1 V479.5 Q193.6 478.0 195.1 478.0Z" fill="#2f3337"/>
<rect x="196.6" y="482.3" width="27.9" height="10.6" fill="#dbe7f0"/>
<circle cx="209.4" cy="516.3" r="16.8" fill="url(#knob)"/>
<circle cx="209.4" cy="516.3" r="13.6" fill="none" stroke="#0e0f10" stroke-opacity=".5" stroke-width="1.2"/>
<g transform="translate(203.4 517.3) rotate(45)"><rect x="-10.5" y="-5.2" width="33.0" height="10.4" rx="3.4" fill="#1a1c1e"/><rect x="-7.3" y="-1.25" width="14.6" height="2.5" rx="1" fill="#f4f4f4"/></g>
<ellipse cx="282.2" cy="526.9" rx="16.4" ry="15.4" fill="#3f4a55" opacity="0.6" filter="url(#blur3)"/>
<path d="M261.7 478.3 H291.3 Q292.8 478.3 292.8 479.8 V515.6 A16.3 16.3 0 0 1 260.2 515.6 V479.8 Q260.2 478.3 261.7 478.3Z" fill="#2f3337"/>
<rect x="263.0" y="482.7" width="28.0" height="11.0" fill="#dbe7f0"/>
<circle cx="277.2" cy="514.9" r="16.4" fill="url(#knob)"/>
<circle cx="277.2" cy="514.9" r="13.2" fill="none" stroke="#0e0f10" stroke-opacity=".5" stroke-width="1.2"/>
<g transform="translate(274.4 518.4) rotate(39)"><rect x="-10.5" y="-5.2" width="33.0" height="10.4" rx="3.4" fill="#1a1c1e"/><rect x="-7.3" y="-1.25" width="14.6" height="2.5" rx="1" fill="#f4f4f4"/></g>
<ellipse cx="352.2" cy="529.8" rx="17.6" ry="16.6" fill="#3f4a55" opacity="0.6" filter="url(#blur3)"/>
<path d="M329.5 480.9 H360.3 Q361.8 480.9 361.8 482.4 V519.1 A16.9 16.9 0 0 1 328.0 519.1 V482.4 Q328.0 480.9 329.5 480.9Z" fill="#2f3337"/>
<rect x="330.9" y="485.1" width="28.3" height="10.9" fill="#dbe7f0"/>
<circle cx="347.2" cy="517.8" r="17.6" fill="url(#knob)"/>
<circle cx="347.2" cy="517.8" r="14.4" fill="none" stroke="#0e0f10" stroke-opacity=".5" stroke-width="1.2"/>
<g transform="translate(347.1 520.9) rotate(42)"><rect x="-10.5" y="-5.2" width="33.0" height="10.4" rx="3.4" fill="#1a1c1e"/><rect x="-7.3" y="-1.25" width="14.6" height="2.5" rx="1" fill="#f4f4f4"/></g>
</g>
<g id="boxtext" opacity=".999"><text x="137.8" y="214.8" font-size="6.1" font-weight="700" text-anchor="start" fill="#2aa3f2" textLength="32.400" lengthAdjust="spacingAndGlyphs" stroke="#2aa3f2" stroke-width=".25">FEEL GOOD</text>
<text x="137.8" y="224.4" font-size="11.6" font-weight="700" text-anchor="start" fill="#0c0c0c" textLength="31.800" lengthAdjust="spacingAndGlyphs" stroke="#0c0c0c" stroke-width=".45">TECH</text>
<text x="119.4" y="232.8" font-size="7.7" font-weight="700" text-anchor="start" fill="#0c0c0c" textLength="52.200" lengthAdjust="spacingAndGlyphs" stroke="#0c0c0c" stroke-width=".2">063-090-9243</text>
<text x="243.6" y="245.0" font-size="7.0" font-weight="400" text-anchor="middle" fill="#555" textLength="15.42" lengthAdjust="spacingAndGlyphs">ไฟเข้า</text>
<text x="146.1" y="325.9" font-size="5.4" font-weight="400" text-anchor="middle" fill="#222" textLength="20.02" lengthAdjust="spacingAndGlyphs">ปั๊ม_รีเซท</text>
<text x="211.5" y="325.5" font-size="5.0" font-weight="700" text-anchor="middle" fill="#222">Auto Man</text>
<text x="275.8" y="327.0" font-size="6.0" font-weight="400" text-anchor="middle" fill="#222" textLength="9.03" lengthAdjust="spacingAndGlyphs">เปิด</text>
<text x="341.9" y="323.5" font-size="6.0" font-weight="400" text-anchor="middle" fill="#222" textLength="7.33" lengthAdjust="spacingAndGlyphs">ปิด</text>
<text x="147.1" y="408.9" font-size="5.0" font-weight="700" text-anchor="middle" fill="#41474e" font-style="italic">Zone1</text>
<text x="211.5" y="407.8" font-size="5.0" font-weight="700" text-anchor="middle" fill="#41474e" font-style="italic">Zone2</text>
<text x="276.9" y="407.8" font-size="5.0" font-weight="700" text-anchor="middle" fill="#41474e">Zone3</text>
<text x="343.0" y="407.8" font-size="5.0" font-weight="700" text-anchor="middle" fill="#41474e">Zone4</text>
<text x="145.4" y="485.9" font-size="5.4" font-weight="700" text-anchor="middle" fill="#222" textLength="6.84" lengthAdjust="spacingAndGlyphs">ปิด</text>
<text x="131.7" y="491.8" font-size="4.7" font-weight="700" text-anchor="start" fill="#222">Auto</text>
<text x="157.6" y="491.8" font-size="5.0" font-weight="700" text-anchor="end" fill="#222" textLength="8.02" lengthAdjust="spacingAndGlyphs">เปิด</text>
<text x="211.6" y="485.9" font-size="5.4" font-weight="700" text-anchor="middle" fill="#222" textLength="6.84" lengthAdjust="spacingAndGlyphs">ปิด</text>
<text x="197.4" y="491.6" font-size="4.7" font-weight="700" text-anchor="start" fill="#222">Auto</text>
<text x="224.1" y="491.6" font-size="5.0" font-weight="700" text-anchor="end" fill="#222" textLength="8.02" lengthAdjust="spacingAndGlyphs">เปิด</text>
<text x="278.0" y="486.3" font-size="5.4" font-weight="700" text-anchor="middle" fill="#222" textLength="6.84" lengthAdjust="spacingAndGlyphs">ปิด</text>
<text x="263.8" y="492.4" font-size="4.7" font-weight="700" text-anchor="start" fill="#222">Auto</text>
<text x="290.6" y="492.4" font-size="5.0" font-weight="700" text-anchor="end" fill="#222" textLength="8.02" lengthAdjust="spacingAndGlyphs">เปิด</text>
<text x="346.0" y="488.7" font-size="5.4" font-weight="700" text-anchor="middle" fill="#222" textLength="6.84" lengthAdjust="spacingAndGlyphs">ปิด</text>
<text x="331.7" y="494.7" font-size="4.7" font-weight="700" text-anchor="start" fill="#222">Auto</text>
<text x="358.8" y="494.7" font-size="5.0" font-weight="700" text-anchor="end" fill="#222" textLength="8.02" lengthAdjust="spacingAndGlyphs">เปิด</text></g>
<g id="pumppipes"><rect x="192.1" y="689.9" width="216.7" height="9.8" fill="#1cb0fa"/>
<rect x="180.9" y="688.1" width="9.6" height="29.5" fill="#1cb0fa"/>
<path d="M0 742.2 H174.9 a6.3 6.3 0 0 1 0 12.6 H0Z" fill="#1cb0fa"/></g>
<g id="wifi" fill="none" stroke="#1cb0fa" stroke-width="18.5" stroke-linecap="round">
<path d="M249.000 135 A104 104 0 0 1 397 135"/>
<path d="M272.800 158.300 A70.600 70.600 0 0 1 373.200 158.300"/>
<path d="M294.800 181.500 A38.900 38.900 0 0 1 351.200 181.500"/>
<circle cx="322.800" cy="205.900" r="10.900" fill="#1cb0fa" stroke="none"/>
</g>

<g id="card">
<path d="M602.100 25 H1169.800 A16.400 16.400 0 0 1 1186.200 41.400 V320.400 A16.400 16.400 0 0 1 1169.800 336.800 H600.550 A16.400 16.400 0 0 1 584.150 320.400 V41.400 A16.400 16.400 0 0 1 600.550 25 Z" fill="#fff" stroke="#000" stroke-width="3.500" stroke-dasharray="19.700 3.320"/>
<g id="blob" transform="translate(620 110) scale(.27428)">
<path d="M22 400 C22 152 148 28 440 28 C724 28 865 152 865 400 C865 607 773 745 620 745 L290 745 C114 745 22 607 22 400Z" fill="#e1f8ff"/>
</g>
<g id="man-body" transform="translate(660 200) scale(.15593)" stroke="#4d2c27" stroke-width="5" stroke-linejoin="round" stroke-linecap="round" fill="#fff">
<path d="M355 40 C300 42 250 50 215 85 C185 130 150 220 110 310 C75 400 45 470 45 520 C48 580 85 628 135 630 C185 628 215 570 240 480 L256 420 L250 731 L850 722 C880 640 905 520 905 400 C905 290 890 190 850 120 C820 85 780 70 740 65 C700 20 680 0 650 -5 L632 52 L540 112 L450 60 L430 -5 C400 0 370 15 355 40Z" stroke="none"/>
<path d="M430 -10 L450 60 L540 112 L632 52 L612 -10Z" fill="#ffdcc3" stroke="none"/>
<path d="M250 731 L256 420 L240 480 C215 570 185 628 135 630 C85 628 48 580 45 520 C45 470 75 400 110 310 C150 220 185 130 215 85 C250 50 300 42 355 40" fill="none"/>
<path d="M740 65 C780 70 820 85 850 120 C890 190 905 290 905 400 C905 520 880 640 850 722" fill="none"/>
<path d="M355 40 C380 80 440 110 510 128" fill="none"/>
<path d="M740 65 C690 75 610 100 555 128" fill="none"/>
<path d="M256 420 C262 380 270 330 285 285" fill="none"/>
<path d="M78 440 C110 370 160 280 225 205" fill="none"/>
<path d="M770 290 L750 440" fill="none"/>
<path d="M580 440 C610 520 680 640 790 731 L848 724 L857 585 C800 520 740 450 680 380Z" stroke="none"/>
<path d="M580 440 C610 520 680 640 790 731 M680 380 C740 450 800 520 857 585" fill="none"/>
<path d="M485 150 H622 Q627 150 627 156 L625 330 L500 330 L488 156 Q487 150 485 150Z" fill="#b0b0b0"/>
<path d="M484 152 H626" fill="none" stroke-width="7"/>
<path d="M225 205 C240 160 270 110 292 98 C340 110 420 150 448 175 C455 188 440 196 425 192 L392 182 C395 195 390 202 378 200 C370 225 340 262 300 270 L290 282 C260 262 235 235 225 205Z" fill="#ffdcc3"/>
<path d="M310 140 C340 155 365 168 392 182 M295 165 C320 178 345 190 368 198 M290 205 C310 215 325 222 340 228 M292 240 L300 270" fill="none"/>
<path d="M462 285 C475 270 490 270 500 282 C520 300 545 322 575 335 C560 300 545 270 540 250 C548 235 562 240 570 250 C590 280 610 305 622 320 C625 290 628 265 632 250 C645 245 655 255 658 270 C665 310 672 350 680 380 C670 410 630 440 580 440 C540 425 495 380 470 335 C462 315 458 300 462 285Z" fill="#ffdcc3"/>
<path d="M470 300 C495 335 520 360 548 378 M466 320 C485 350 510 378 535 395" fill="none"/>
<path d="M625 115 L640 135 M640 125 L660 150 M645 152 L665 160" fill="none"/>
</g>
<g id="man-head" transform="translate(690 120) scale(.12474)" stroke="#4d2c27" stroke-width="6.200" stroke-linejoin="round" stroke-linecap="round">
<path d="M205 672 C215 640 250 622 322 615 L322 690 Z" fill="#fff"/>
<path d="M522 625 C600 628 670 660 690 712 L540 712Z" fill="#fff"/>
<path d="M325 600 L320 680 C310 700 295 705 282 690 M520 600 L525 680 C535 700 545 708 552 710" fill="none"/>
<path d="M325 600 L320 680 L430 785 L552 710 L525 680 L520 600Z" fill="#ffdcc3" stroke="none"/>
<path d="M325 600 L320 680 C310 700 295 705 282 690 M520 600 L525 680 C535 700 545 708 552 710" fill="none"/>
<path d="M262 400 C235 380 215 400 222 435 C228 465 250 482 272 478 M568 400 C595 380 618 400 612 435 C606 465 588 482 565 478" fill="#ffdcc3"/>
<path d="M262 330 C258 420 275 520 320 585 C350 625 390 645 420 645 C455 645 495 625 525 585 C565 520 578 420 572 330 C560 250 500 205 420 205 C340 205 270 250 262 330Z" fill="#ffdcc3"/>
<path d="M235 385 C215 330 205 260 222 200 C228 170 240 155 230 140 C245 142 255 138 262 130 C300 85 360 62 420 66 C450 70 470 85 480 98 C510 95 545 105 570 130 C600 165 618 220 625 262 C630 275 640 283 648 287 C640 292 628 292 620 290 C622 330 615 365 605 390 C580 385 560 372 548 350 C530 310 520 260 495 235 C470 215 420 210 390 222 C365 240 350 290 325 330 C305 355 270 372 235 385Z" fill="#cf8660"/>
<path d="M385 172 C410 168 428 185 432 210 M485 132 C470 150 460 172 458 195 M300 345 C325 335 355 335 380 345 M462 338 C488 330 515 333 538 345 M260 370 C280 365 295 358 310 345" fill="none"/>
<circle cx="345" cy="422" r="14" fill="#3a1f1b" stroke="none"/>
<circle cx="493" cy="422" r="14" fill="#3a1f1b" stroke="none"/>
<path d="M418 395 C426 415 428 435 422 452 C412 460 405 465 406 472 C408 480 414 485 420 487" fill="none"/>
<path d="M365 525 C400 530 445 530 482 524 C470 560 448 585 420 586 C392 585 375 560 365 525Z" fill="#fff"/>
</g>
<g id="copy" opacity=".999">
<text x="610.200" y="98.700" font-size="54.500" font-weight="700" fill="#000" textLength="551.550" lengthAdjust="spacingAndGlyphs">ลดเวลาดูแลสวนที่คุณรัก</text>
<text x="885.400" y="179.100" font-size="31.450" fill="#000" textLength="184.200" lengthAdjust="spacingAndGlyphs">ด้วยระบบรดน้ำ</text>
<text x="885.400" y="222.300" font-size="31.450" fill="#000" textLength="259.600" lengthAdjust="spacingAndGlyphs">อัตโนมัติ <tspan font-weight="700">ดูแลสวนได้</tspan></text>
<text x="885.400" y="265.900" font-size="31.450" font-weight="700" fill="#000" textLength="228.500" lengthAdjust="spacingAndGlyphs">ทุกที่ แม้คุณไม่อยู่</text>
</g>
</g>

</svg>
</body>
</html>
